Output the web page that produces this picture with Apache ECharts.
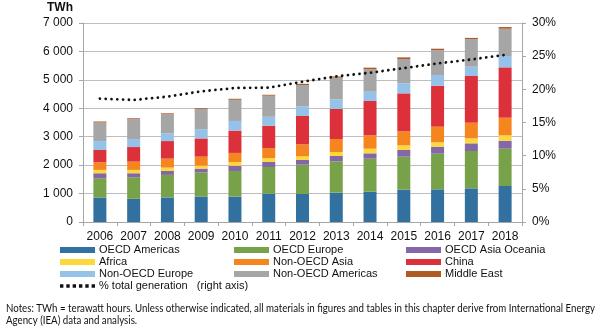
<!DOCTYPE html>
<html>
<head>
<meta charset="utf-8">
<script src="https://cdn.jsdelivr.net/npm/echarts@6/dist/echarts.min.js"></script>
<style>
html,body{margin:0;padding:0;background:#fff;}
#chart{width:600px;height:329px;}
</style>
</head>
<body>
<div id="chart"></div>
<script>
var years = ['2006','2007','2008','2009','2010','2011','2012','2013','2014','2015','2016','2017','2018'];
var oecdAmericas    = [863, 817, 863, 898, 895, 995, 985, 1032, 1067, 1137, 1149, 1184, 1266];
var oecdEurope      = [677, 758, 794, 841, 900, 940, 1031, 1102, 1160, 1161, 1254, 1313, 1313];
var oecdAsiaOceania = [175, 140, 140, 140, 185, 180, 165, 187, 188, 234, 246, 270, 281];
var africa          = [117, 117, 116, 105, 130, 130, 129, 141, 164, 164, 153, 176, 188];
var nonOecdAsia     = [268, 292, 316, 315, 320, 355, 421, 457, 469, 493, 551, 550, 621];
var china           = [432, 513, 618, 641, 785, 786, 997, 1055, 1208, 1336, 1442, 1642, 1771];
var nonOecdEurope   = [315, 280, 268, 327, 340, 316, 340, 340, 328, 352, 375, 328, 398];
var nonOecdAmericas = [653, 701, 677, 708, 745, 741, 750, 762, 785, 856, 879, 973, 962];
var middleEast      = [35, 30, 31, 25, 35, 32, 42, 44, 60, 58, 47, 40, 58];
var pctTotal        = [18.6, 18.4, 18.9, 19.7, 20.2, 20.25, 21.15, 21.95, 22.5, 23.2, 23.9, 24.5, 25.2];
var leftTicks  = ['0','1 000','2 000','3 000','4 000','5 000','6 000','7 000'];
var rightTicks = ['0%','5%','10%','15%','20%','25%','30%'];
var noteLines = [
  'Notes: TWh = terawatt hours. Unless otherwise indicated, all materials in figures and tables in this chapter derive from International Energy',
  'Agency (IEA) data and analysis.'
];

var lineName = '% total generation   (right axis)';
var barSeries = [
  ['OECD Americas', oecdAmericas, '#31709f'],
  ['OECD Europe', oecdEurope, '#78a24a'],
  ['OECD Asia Oceania', oecdAsiaOceania, '#8467a6'],
  ['Africa', africa, '#fdd83c'],
  ['Non-OECD Asia', nonOecdAsia, '#f5861f'],
  ['China', china, '#dc313b'],
  ['Non-OECD Europe', nonOecdEurope, '#94c2e8'],
  ['Non-OECD Americas', nonOecdAmericas, '#a6a6a6'],
  ['Middle East', middleEast, '#b05a24']
];

var series = barSeries.map(function (s) {
  return {
    name: s[0], type: 'bar', stack: 'total', data: s[1], barWidth: 13,
    itemStyle: { color: s[2] }, emphasis: { disabled: true }
  };
});
series.push({
  name: lineName, type: 'line', yAxisIndex: 1, data: pctTotal,
  symbol: 'none', z: 10,
  lineStyle: { color: '#111', width: 2.8, type: [0.01, 5.8], cap: 'round' },
  itemStyle: { color: '#111' }
});

var dotIcon = 'path://M0 0h3v3h-3z M5.6 0h3v3h-3z M11.2 0h3v3h-3z M16.8 0h3v3h-3z M22.4 0h3v3h-3z M28 0h3v3h-3z';

function legendCol(names, left) {
  return {
    orient: 'vertical', left: left, top: 244, itemGap: 0,
    itemWidth: 35, itemHeight: 6, selectedMode: false,
    textStyle: { fontFamily: 'Liberation Sans, Arial', fontSize: 11, color: '#111', lineHeight: 12, padding: [0, 0, 0, -1] },
    padding: 0,
    data: names.map(function (n) {
      if (n === lineName) return { name: n, icon: dotIcon, itemStyle: { color: '#111' } };
      return { name: n, icon: 'rect' };
    })
  };
}

var chart = echarts.init(document.getElementById('chart'), null, { renderer: 'canvas' });
var axisFont = { fontFamily: 'Liberation Sans, Arial', fontSize: 12, color: '#111' };

var ctx = document.createElement('canvas').getContext('2d');
var noteFont = '11px Lato';
ctx.font = noteFont;
var w1 = ctx.measureText(noteLines[0]).width;
var noteScale = 589 / w1;

var option = {
  animation: false,
  title: {
    text: 'TWh', left: 47, top: 2, padding: 0,
    textStyle: { fontFamily: 'Liberation Sans, Arial', fontSize: 12, fontWeight: 'bold', color: '#111' }
  },
  grid: { left: 83, right: 78, top: 23, bottom: 107, containLabel: false },
  legend: [
    legendCol(['OECD Americas', 'Africa', 'Non-OECD Europe', lineName], 60),
    legendCol(['OECD Europe', 'Non-OECD Asia', 'Non-OECD Americas'], 234),
    legendCol(['OECD Asia Oceania', 'China', 'Middle East'], 406)
  ],
  xAxis: {
    type: 'category', data: years, boundaryGap: true,
    axisLine: { show: true, lineStyle: { color: '#a6a6a6', width: 1 } },
    axisTick: { show: true, length: 4, lineStyle: { color: '#a6a6a6' } },
    axisLabel: Object.assign({ margin: 9, interval: 0 }, axisFont)
  },
  yAxis: [
    {
      type: 'value', min: 0, max: 7000, interval: 1000,
      axisLine: { show: true, lineStyle: { color: '#a6a6a6' } },
      axisTick: { show: true, length: 4, lineStyle: { color: '#a6a6a6' } },
      splitLine: { show: true, lineStyle: { color: '#bdbdbd', width: 1 } },
      axisLabel: Object.assign({ margin: 10, formatter: function (v) { return leftTicks[Math.round(v / 1000)]; } }, axisFont)
    },
    {
      type: 'value', min: 0, max: 30, interval: 5, position: 'right',
      axisLine: { show: true, lineStyle: { color: '#a6a6a6' } },
      axisTick: { show: true, length: 4, lineStyle: { color: '#a6a6a6' } },
      splitLine: { show: false },
      axisLabel: Object.assign({ margin: 10, formatter: function (v) { return rightTicks[Math.round(v / 5)]; } }, axisFont)
    }
  ],
  series: series,
  graphic: noteLines.map(function (t, i) {
    return {
      type: 'text', left: 6, top: 303 + i * 12, scaleX: noteScale, originX: 0,
      style: { text: t, font: noteFont, fill: '#111' }
    };
  })
};
chart.setOption(option);
</script>
</body>
</html>
